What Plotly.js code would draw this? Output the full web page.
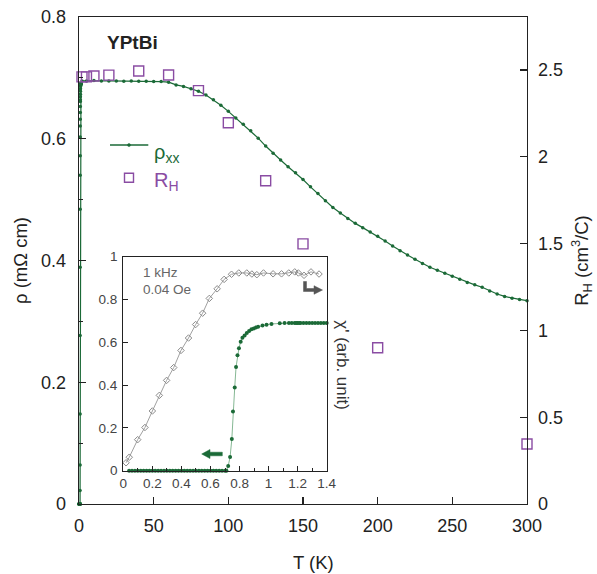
<!DOCTYPE html>
<html>
<head>
<meta charset="utf-8">
<script src="https://cdn.plot.ly/plotly-3.0.1.min.js"></script>
<style>html,body{margin:0;padding:0;background:#fff;}#chart{width:597px;height:574px;}</style>
</head>
<body>
<div id="chart"></div>
<script>
// ---- Inset data (T in K, below 1.4 K) ----
var insetRhoT = [0.04,0.06,0.08,0.10,0.12,0.14,0.16,0.18,0.20,0.22,0.24,0.26,0.28,0.30,0.32,0.34,0.36,0.38,0.40,0.42,0.44,0.46,0.48,0.50,0.52,0.54,0.56,0.58,0.60,0.62,0.64,0.66,0.68,0.70,0.71,0.722,0.735,0.747,0.755,0.767,0.776,0.786,0.796,0.808,0.820,0.835,0.850,0.866,0.882,0.898,0.913,0.928,0.958,0.986,1.02,1.077,1.11,1.14,1.16,1.18,1.19,1.20,1.21,1.22,1.24,1.26,1.28,1.30,1.32,1.34,1.36,1.38,1.40];
var insetRho  = [0,0,0,0,0,0,0,0,0,0,0,0,0,0,0,0,0,0,0,0,0,0,0,0,0,0,0,0,0,0,0,0,0,0,0,0.022,0.064,0.148,0.277,0.389,0.484,0.540,0.572,0.603,0.621,0.632,0.643,0.653,0.661,0.664,0.669,0.673,0.678,0.682,0.686,0.689,0.690,0.690,0.690,0.690,0.690,0.690,0.690,0.690,0.690,0.690,0.690,0.690,0.690,0.690,0.690,0.690,0.690];
var insetChiT = [0.019,0.041,0.099,0.149,0.200,0.248,0.298,0.347,0.397,0.449,0.498,0.546,0.592,0.646,0.694,0.745,0.795,0.850,0.885,0.919,0.965,1.031,1.089,1.139,1.180,1.205,1.244,1.292,1.347];
var insetChi  = [0.037,0.063,0.145,0.202,0.279,0.352,0.422,0.482,0.562,0.620,0.683,0.736,0.805,0.850,0.894,0.918,0.924,0.924,0.919,0.916,0.924,0.920,0.920,0.924,0.929,0.924,0.913,0.929,0.919];

// ---- Main data ----
var mainT   = [2,5,10,15,20,25,30,35,40,45,50,55,60,65,70,75,80,85,90,95,100,105,110,115,120,125,130,135,140,145,150,155,160,165,170,175,180,185,190,195,200,205,210,215,220,225,230,235,240,245,250,255,260,265,270,275,280,285,290,295,300];
var mainRho = [0.695,0.695,0.6955,0.695,0.695,0.695,0.6945,0.695,0.6945,0.6945,0.694,0.694,0.693,0.6885,0.686,0.682,0.678,0.672,0.664,0.655,0.645,0.634,0.624,0.613,0.601,0.588,0.576,0.565,0.554,0.544,0.533,0.521,0.510,0.498,0.487,0.478,0.469,0.461,0.454,0.447,0.440,0.432,0.424,0.416,0.409,0.402,0.395,0.389,0.384,0.379,0.374,0.369,0.364,0.360,0.356,0.350,0.345,0.341,0.338,0.336,0.334];
var hallT = [2,5,10,20,40,60,80,100,125,150,200,300];
var hallR = [2.46,2.46,2.465,2.47,2.494,2.471,2.381,2.196,1.862,1.498,0.900,0.346];

var xTicks = [0,50,100,150,200,250,300];
var yTicks = [0,0.2,0.4,0.6,0.8];
var y2Ticks = [0,0.5,1,1.5,2,2.5];
var insetXTicks = [0,0.2,0.4,0.6,0.8,1,1.2,1.4];
var insetYTicks = [0,0.2,0.4,0.6,0.8,1];

var GREEN = '#1b6a37', PURPLE = '#8a4ca3', GRAY = '#8a8a8a', AX = '#222222', DARKGRAY = '#555555';
var FONT = 'Arial, "Liberation Sans", Helvetica, sans-serif';

var traces = [
  {x: insetRhoT.concat(mainT), y: insetRho.concat(mainRho), xaxis:'x', yaxis:'y', mode:'lines+markers',
   line:{color:GREEN, width:1.2}, marker:{color:GREEN, size:3.5}, cliponaxis:false},
  {x: hallT, y: hallR, xaxis:'x', yaxis:'y2', mode:'markers',
   marker:{symbol:'square-open', size:10, color:PURPLE, line:{color:PURPLE, width:1.4}}, cliponaxis:false},
  {x: insetChiT, y: insetChi, xaxis:'x3', yaxis:'y3', mode:'lines+markers',
   line:{color:'#a0a0a0', width:1}, marker:{symbol:'diamond-open', size:5, color:GRAY, line:{color:GRAY, width:1}}, cliponaxis:false},
  {x: insetRhoT, y: insetRho, xaxis:'x3', yaxis:'y3', mode:'lines+markers',
   line:{color:'#86b894', width:1}, marker:{color:GREEN, size:4}, cliponaxis:false}
];

function px(x){return (x-79)/448;}
function py(y){return (504-y)/487;}
function P(x,y){return px(x)+','+py(y);}

// arrow outlines in pixel terms, converted to paper coordinates
var greenArrow = 'M'+P(201.7,454)+' L'+P(210,449.5)+' L'+P(210,452.2)+' L'+P(222.3,452.2)+' L'+P(222.3,455.8)+' L'+P(210,455.8)+' L'+P(210,458.5)+' Z';
var grayArrow = 'M'+P(303.5,281.5)+' L'+P(306.5,281.5)+' L'+P(306.5,288.5)+' L'+P(314,288.5)+' L'+P(314,285.7)+' L'+P(322.5,290)+' L'+P(314,294.3)+' L'+P(314,291.5)+' L'+P(303.5,291.5)+' Z';

var layout = {
  width:597, height:574,
  margin:{l:79, r:70, t:17, b:70},
  paper_bgcolor:'#fff', plot_bgcolor:'rgba(0,0,0,0)',
  showlegend:false,
  font:{family:FONT, color:AX, size:18},
  xaxis:{domain:[0,1], range:[0,300], tickvals:xTicks, ticks:'inside', ticklen:7, tickwidth:1.3, tickcolor:AX,
         showline:true, linecolor:AX, linewidth:1.3, mirror:true, showgrid:false, zeroline:false,
         tickfont:{size:18, color:AX}, ticklabelstandoff:5},
  yaxis:{domain:[0,1], range:[0,0.8], tickvals:yTicks, ticks:'inside', ticklen:7, tickwidth:1.3, tickcolor:AX,
         minor:{dtick:0.1, ticks:'inside', ticklen:3.5, tickcolor:AX, tickwidth:1.2},
         showline:true, linecolor:AX, linewidth:1.3, showgrid:false, zeroline:false,
         tickfont:{size:18, color:AX}, ticklabelstandoff:8,
         title:{text:'\u03c1 (m\u03a9 cm)', font:{size:18.5, color:AX}, standoff:8}},
  yaxis2:{overlaying:'y', side:'right', anchor:'x', range:[0,2.805], tickvals:y2Ticks, ticks:'inside', ticklen:7, tickwidth:1.3, tickcolor:AX,
         showline:true, linecolor:AX, linewidth:1.3, showgrid:false, zeroline:false,
         tickfont:{size:18, color:AX}, ticklabelstandoff:6,
         title:{text:'R<sub>H</sub> (cm<sup>3</sup>/C)', font:{size:18.5, color:AX}, standoff:13}},
  xaxis3:{domain:[px(123.3), px(326.7)], anchor:'y3', range:[0,1.4], tickvals:insetXTicks, ticks:'inside', ticklen:5, tickwidth:1, tickcolor:AX,
         minor:{dtick:0.1, ticks:'inside', ticklen:3, tickcolor:AX},
         showline:true, linecolor:AX, linewidth:1.2, mirror:true, showgrid:false, zeroline:false,
         tickfont:{size:13.5, color:'#444'}, ticklabelstandoff:0},
  yaxis3:{domain:[py(470.7), py(256.7)], anchor:'x3', range:[0,1], tickvals:insetYTicks, ticks:'inside', ticklen:5, tickwidth:1, tickcolor:AX,
         showline:true, linecolor:AX, linewidth:1.2, mirror:true, showgrid:false, zeroline:false,
         tickfont:{size:13.5, color:'#444'}, ticklabelstandoff:2},
  shapes:[
    {type:'line', xref:'paper', yref:'paper', x0:px(110), x1:px(148.3), y0:py(145), y1:py(145), line:{color:GREEN, width:1.3}},
    {type:'circle', xref:'paper', yref:'paper', x0:px(127.5), x1:px(130.5), y0:py(146.5), y1:py(143.5), fillcolor:GREEN, line:{color:GREEN, width:0.5}},
    {type:'rect', xref:'paper', yref:'paper', x0:px(124.5), x1:px(133.5), y0:py(182.2), y1:py(173.2), line:{color:PURPLE, width:1.4}},
    {type:'path', xref:'paper', yref:'paper', path:greenArrow, fillcolor:GREEN, line:{color:GREEN, width:0.5}},
    {type:'path', xref:'paper', yref:'paper', path:grayArrow, fillcolor:DARKGRAY, line:{color:DARKGRAY, width:0.5}}
  ],
  annotations:[
    {xref:'paper', yref:'paper', x:px(105), y:py(42), xanchor:'left', yanchor:'middle', showarrow:false,
     text:'<b>YPtBi</b>', font:{size:19, color:AX}},
    {xref:'paper', yref:'paper', x:px(152), y:py(153), xanchor:'left', yanchor:'middle', showarrow:false,
     text:'\u03c1<sub>xx</sub>', font:{size:20, color:GREEN}},
    {xref:'paper', yref:'paper', x:px(152), y:py(182), xanchor:'left', yanchor:'middle', showarrow:false,
     text:'R<sub>H</sub>', font:{size:20, color:PURPLE}},
    {xref:'paper', yref:'paper', x:px(141), y:py(272), xanchor:'left', yanchor:'middle', showarrow:false,
     text:'1 kHz', font:{size:13.5, color:'#666'}},
    {xref:'paper', yref:'paper', x:px(141), y:py(289), xanchor:'left', yanchor:'middle', showarrow:false,
     text:'0.04 Oe', font:{size:13.5, color:'#666'}},
    {xref:'paper', yref:'paper', x:px(341.7), y:py(365), xanchor:'center', yanchor:'middle', showarrow:false, textangle:90,
     text:"\u03c7' (arb. unit)", font:{size:17, color:'#333'}},
    {xref:'paper', yref:'paper', x:px(313), y:py(562), xanchor:'center', yanchor:'middle', showarrow:false,
     text:'T (K)', font:{size:18.5, color:AX}}
  ]
};

Plotly.newPlot('chart', traces, layout, {displayModeBar:false, staticPlot:true});
</script>
</body>
</html>
